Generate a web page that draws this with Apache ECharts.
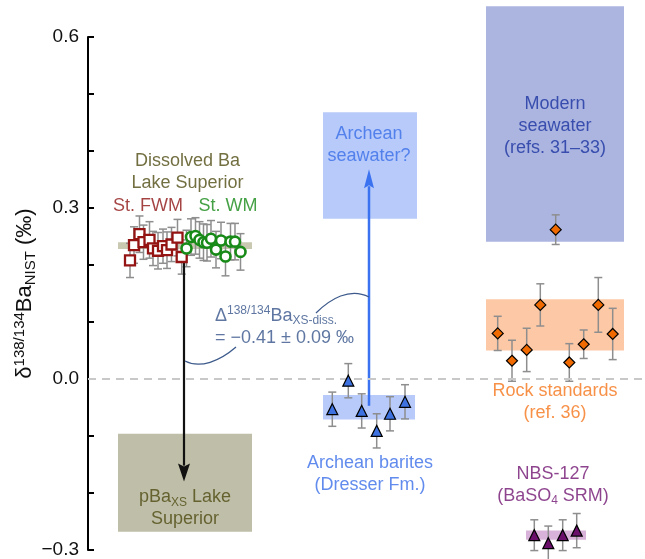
<!DOCTYPE html>
<html><head><meta charset="utf-8">
<script src="https://cdn.jsdelivr.net/npm/echarts@6/dist/echarts.min.js"></script>
<style>html,body{margin:0;padding:0;background:#fff}#c{width:645px;height:559px}</style>
</head><body><div id="c"></div>
<script>
// ---------- DATA ----------
const yTicks = [-0.3, 0.0, 0.3, 0.6];
// St. FWM (squares)
const fwmX = [42, 46, 51.5, 55.5, 61.5, 65, 70, 75, 79, 83.5, 89.5, 93.7];
const fwmY = [0.208, 0.235, 0.254, 0.240, 0.244, 0.229, 0.225, 0.233, 0.226, 0.236, 0.248, 0.214];
const fwmErr = [0.030, 0.032, 0.032, 0.030, 0.032, 0.030, 0.032, 0.030, 0.032, 0.030, 0.032, 0.030];
// St. WM (circles)
const wmX = [98.5, 103, 107.5, 111.5, 115.5, 119, 123, 128, 133, 137.5, 142.5, 147, 152.5];
const wmY = [0.229, 0.249, 0.251, 0.244, 0.240, 0.239, 0.246, 0.227, 0.243, 0.215, 0.241, 0.241, 0.223];
const wmErr = [0.032, 0.032, 0.032, 0.032, 0.032, 0.032, 0.032, 0.032, 0.032, 0.034, 0.032, 0.032, 0.032];
// Archean barites
const bariteX = [244.3, 260.3, 273.7, 288.7, 302, 317];
const bariteY = [-0.053, -0.003, -0.056, -0.091, -0.061, -0.040];
const bariteErr = [0.030, 0.030, 0.030, 0.030, 0.030, 0.030];
// Modern seawater point
const modernX = [467.7];
const modernY = [0.262];
const modernErr = [0.026];
// Rock standards
const rockX = [409.7, 424, 438.7, 452.3, 481.3, 495.7, 510.3, 524.7];
const rockY = [0.080, 0.032, 0.051, 0.130, 0.029, 0.061, 0.130, 0.079];
const rockErr = [0.030, 0.036, 0.038, 0.037, 0.033, 0.025, 0.048, 0.045];
// NBS-127
const nbsX = [446.3, 460.3, 474.7, 488.7];
const nbsY = [-0.274, -0.288, -0.274, -0.266];
const nbsErr = [0.027, 0.030, 0.027, 0.030];
// Ranges (boxes): [x0, x1, y0, y1]
const lakeBand = [30, 164, 0.228, 0.240];
const pBaBox = [30, 164, -0.268, -0.096];
const archSeaBox = [235, 329, 0.281, 0.468];
const bariteBand = [235, 327, -0.071, -0.028];
const modernBox = [398, 536, 0.241, 0.654];
const rockBox = [398, 536, 0.050, 0.140];
const nbsBand = [438, 498, -0.282, -0.266];
// Arrows: [x, yStart, yEnd]
const lakeArrow = [96, 0.205, -0.180];
const archArrow = [281, -0.047, 0.368];
// Connector curves: [x0,y0, c1x,c1y, c2x,c2y, x1,y1]
const curve1 = [97, 0.0316, 112, 0.0175, 132, 0.0316, 148, 0.0561];
const curve2 = [228, 0.1158, 242, 0.1404, 262, 0.1614, 281, 0.1439];
// Text anchors: [x, y]
const tDissolved = [99.5, 0.363];
const tFWM = [60, 0.304];
const tWM = [140, 0.304];
const tArchSea = [281, 0.411];
const tModern = [467, 0.444];
const tRock = [467, -0.041];
const tNBS = [465, -0.186];
const tBarite = [282, -0.167];
const tPBa = [97, -0.227];
const tDelta = [127, 0.091];

// ---------- STYLE ----------
const FONT = '"Liberation Sans", Arial, Helvetica, sans-serif';
const chart = echarts.init(document.getElementById('c'), null, {renderer: 'canvas'});
const zip = (xs, ys, es) => xs.map((x, i) => es ? [x, ys[i], es[i]] : [x, ys[i]]);

function boxSeries(b, color, z) {
  return {
    type: 'custom', clip: false, z: z || 1, silent: true,
    data: [b],
    encode: {x: [0, 1], y: [2, 3]},
    renderItem(params, api) {
      const p0 = api.coord([api.value(0), api.value(3)]);
      const p1 = api.coord([api.value(1), api.value(2)]);
      return {type: 'rect', shape: {x: p0[0], y: p0[1], width: p1[0] - p0[0], height: p1[1] - p0[1]}, style: {fill: color}};
    }
  };
}
function errSeries(data) {
  return {
    type: 'custom', z: 3, silent: true, data: data, encode: {x: 0, y: 1},
    renderItem(params, api) {
      const x = api.value(0), y = api.value(1), e = api.value(2);
      const t = api.coord([x, y + e]), b = api.coord([x, y - e]);
      const st = {stroke: '#8e8e8e', lineWidth: 1.5};
      return {type: 'group', children: [
        {type: 'line', shape: {x1: t[0], y1: t[1], x2: b[0], y2: b[1]}, style: st},
        {type: 'line', shape: {x1: t[0] - 4, y1: t[1], x2: t[0] + 4, y2: t[1]}, style: st},
        {type: 'line', shape: {x1: b[0] - 4, y1: b[1], x2: b[0] + 4, y2: b[1]}, style: st}
      ]};
    }
  };
}
function arrowSeries(a, color, w, headW, headL) {
  return {
    type: 'custom', z: 4, silent: true, data: [a], encode: {x: 0, y: [1, 2]},
    renderItem(params, api) {
      const s = api.coord([api.value(0), api.value(1)]);
      const t = api.coord([api.value(0), api.value(2)]);
      const dir = t[1] > s[1] ? 1 : -1;
      const by = t[1] - dir * headL;
      return {type: 'group', children: [
        {type: 'line', shape: {x1: s[0], y1: s[1], x2: t[0], y2: by + dir * 2}, style: {stroke: color, lineWidth: w}},
        {type: 'polygon', shape: {points: [[t[0], t[1]], [t[0] - headW / 2, by], [t[0], by + dir * 3], [t[0] + headW / 2, by]]}, style: {fill: color}}
      ]};
    }
  };
}
function curveSeries(c, color) {
  return {
    type: 'custom', z: 4, silent: true, clip: false, data: [c], encode: {x: [0, 2, 4, 6], y: [1, 3, 5, 7]},
    renderItem(params, api) {
      const p = [0, 2, 4, 6].map(i => api.coord([api.value(i), api.value(i + 1)]));
      return {type: 'bezierCurve', shape: {x1: p[0][0], y1: p[0][1], cpx1: p[1][0], cpy1: p[1][1], cpx2: p[2][0], cpy2: p[2][1], x2: p[3][0], y2: p[3][1]},
        style: {stroke: color, lineWidth: 1.3, fill: null}};
    }
  };
}
const richBase = (color, big, small) => ({
  n: {fontSize: big || 18, fontFamily: FONT, color: color, lineHeight: 22, verticalAlign: 'middle'},
  sub: {fontSize: small || 12, fontFamily: FONT, color: color, lineHeight: small || 12, verticalAlign: 'bottom'},
  sup: {fontSize: small || 12, fontFamily: FONT, color: color, lineHeight: small || 12, verticalAlign: 'top'}
});
function textSeries(pos, text, color, pos2) {
  return {
    type: 'scatter', z: 6, silent: true, symbolSize: 0, data: [pos],
    label: {show: true, position: pos2 || 'inside', distance: 0, formatter: text, color: color,
      fontSize: 18, fontFamily: FONT, lineHeight: 22, align: pos2 ? 'left' : 'center', rich: richBase(color)}
  };
}
const symSeries = (data, symbol, size, fill, border, bw) => ({
  type: 'scatter', z: 5, silent: true, data: data, symbol: symbol, symbolSize: size,
  itemStyle: {color: fill, borderColor: border, borderWidth: bw, opacity: 1}
});

const option = {
  animation: false,
  backgroundColor: '#fff',
  grid: {left: 88, right: 0, top: 37, bottom: 9, containLabel: false, outerBoundsMode: 'none'},
  xAxis: {type: 'value', min: 0, max: 557, show: false},
  yAxis: {
    type: 'value', min: -0.3, max: 0.6, interval: 0.1,
    axisLine: {show: true, lineStyle: {color: '#000', width: 2}},
    axisTick: {show: true, inside: true, length: 6, lineStyle: {color: '#000', width: 2}},
    splitLine: {show: false},
    axisLabel: {
      margin: 9, fontSize: 19, fontFamily: FONT, color: '#111',
      formatter: v => {
        const hit = yTicks.find(t => Math.abs(t - v) < 1e-6);
        if (hit === undefined) return '';
        return (hit < 0 ? '\u2212' : '') + Math.abs(hit).toFixed(1);
      }
    },
    name: '{n|\u03b4}{sup|138/134}{n|Ba}{sub|NIST}{n| (\u2030)}',
    nameLocation: 'middle', nameRotate: 90, nameGap: 50, nameMoveOverlap: false,
    nameTextStyle: {rich: Object.assign(richBase('#111', 22, 15), {
      n: {fontSize: 22, fontFamily: FONT, color: '#111', lineHeight: 26, verticalAlign: 'middle'}})}
  },
  series: [
    Object.assign(boxSeries(modernBox, '#abb5e0'), {
      markLine: {silent: true, symbol: 'none', label: {show: false},
        lineStyle: {type: [8, 6], color: '#c8c8c8', width: 2}, data: [{yAxis: 0}]}
    }),
    boxSeries(rockBox, '#fdc8a5'),
    boxSeries(archSeaBox, '#b7cafa'),
    boxSeries(bariteBand, '#b7cafa'),
    boxSeries(pBaBox, '#bfbfa9'),
    boxSeries(lakeBand, '#c9c8b0'),
    boxSeries(nbsBand, '#d8b2d8'),
    errSeries(zip(fwmX, fwmY, fwmErr)),
    errSeries(zip(wmX, wmY, wmErr)),
    errSeries(zip(bariteX, bariteY, bariteErr)),
    errSeries(zip(modernX, modernY, modernErr)),
    errSeries(zip(rockX, rockY, rockErr)),
    errSeries(zip(nbsX, nbsY, nbsErr)),
    arrowSeries(lakeArrow, '#111', 2.2, 12, 18),
    arrowSeries(archArrow, '#3b72f0', 2.5, 10, 19),
    curveSeries(curve1, '#3d5a8c'),
    curveSeries(curve2, '#3d5a8c'),
    symSeries(zip(fwmX, fwmY), 'rect', 10, '#fff', '#941414', 2.3),
    symSeries(zip(wmX, wmY), 'circle', 10, '#fff', '#178a17', 2.6),
    symSeries(zip(bariteX, bariteY), 'triangle', 11, '#3d72e0', '#000', 1.2),
    symSeries(zip(modernX, modernY), 'diamond', 11, '#f06a00', '#000', 1.2),
    symSeries(zip(rockX, rockY), 'diamond', 11, '#f06a00', '#000', 1.2),
    symSeries(zip(nbsX, nbsY), 'triangle', 11, '#6a0f6a', '#000', 1.2),
    textSeries(tDissolved, '{n|Dissolved Ba}\n{n|Lake Superior}', '#4f4b12'),
    textSeries(tFWM, '{n|St. FWM}', '#8f1414'),
    textSeries(tWM, '{n|St. WM}', '#178a17'),
    textSeries(tArchSea, '{n|Archean}\n{n|seawater?}', '#3a6ee8'),
    textSeries(tModern, '{n|Modern}\n{n|seawater}\n{n|(refs. 31\u201333)}', '#1c33a0'),
    textSeries(tRock, '{n|Rock standards}\n{n|(ref. 36)}', '#f5761a'),
    textSeries(tNBS, '{n|NBS-127}\n{n|(BaSO}{sub|4}{n| SRM)}', '#701470'),
    textSeries(tBarite, '{n|Archean barites}\n{n|(Dresser Fm.)}', '#3a6ee8'),
    textSeries(tPBa, '{n|pBa}{sub|XS}{n| Lake}\n{n|Superior}', '#4f4b12'),
    textSeries(tDelta, '{n|\u0394}{sup|138/134}{n|Ba}{sub|XS-diss.}\n{n|= \u22120.41 \u00b1 0.09 \u2030}', '#36548a', 'right')
  ]
};
chart.setOption(option);
</script></body></html>
